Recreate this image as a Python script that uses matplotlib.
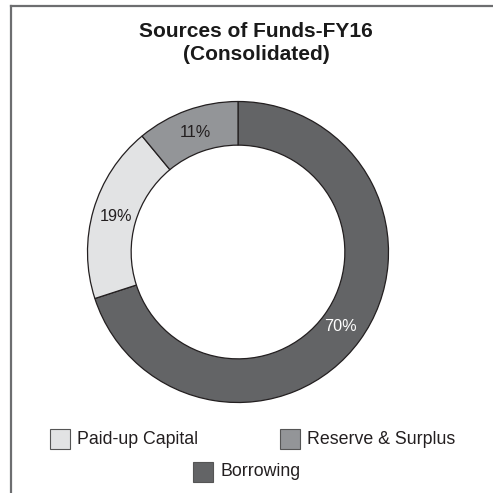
import matplotlib
matplotlib.use('Agg')
import matplotlib.pyplot as plt
from matplotlib.patches import Rectangle
from matplotlib.lines import Line2D

plt.rcParams['font.family'] = ['Liberation Sans', 'DejaVu Sans']

# Dati del grafico (ordine orario partendo dall'alto)
labels = ['Borrowing', 'Paid-up Capital', 'Reserve & Surplus']
shares = [70, 19, 11]
colors = ['#636466', '#e2e3e4', '#939598']
text_colors = ['white', '#231f20', '#231f20']
title = 'Sources of Funds-FY16\n(Consolidated)'

W = H = 493
fig = plt.figure(figsize=(W / 100, H / 100), dpi=100)

# Cornice: solo linea sinistra e superiore
fig.add_artist(Line2D([10.5 / W, 10.5 / W], [0, 1 - 5.5 / H], color='#6d6e70', lw=1.6))
fig.add_artist(Line2D([10.5 / W, 1], [1 - 5.5 / H, 1 - 5.5 / H], color='#6d6e70', lw=1.6))

# Ciambella
cx, cy, r = 238, 252, 152
ax = fig.add_axes([(cx - r) / W, (H - cy - r) / H, 2 * r / W, 2 * r / H])
wedges, texts, autotexts = ax.pie(
    shares, colors=colors, startangle=90, counterclock=False,
    autopct='%d%%', pctdistance=0.845,
    wedgeprops=dict(width=0.29, edgecolor='#231f20', linewidth=0.9))
for t, c in zip(autotexts, text_colors):
    t.set_color(c)
    t.set_fontsize(11.7)
ax.set_xlim(-1.01, 1.01)
ax.set_ylim(-1.01, 1.01)
ax.set_aspect('equal')
ax.axis('off')

fig.text(256 / W, 1 - 43 / H, title, ha='center', va='center',
         fontsize=15, fontweight='bold', color='#1a1a1a', linespacing=1.32)

# Legenda manuale
leg_pos = {'Paid-up Capital': (50, 439), 'Reserve & Surplus': (280, 439), 'Borrowing': (193, 472)}
for lab, col in zip(labels, colors):
    x, y = leg_pos[lab]
    fig.add_artist(Rectangle((x / W, 1 - (y + 10) / H), 20 / W, 20 / H,
                             facecolor=col, edgecolor='#555555', lw=0.8,
                             transform=fig.transFigure))
    fig.text((x + 27) / W, 1 - y / H, lab, ha='left', va='center',
             fontsize=12.8, color='#231f20')

fig.savefig('out.png', dpi=100, facecolor='white')
